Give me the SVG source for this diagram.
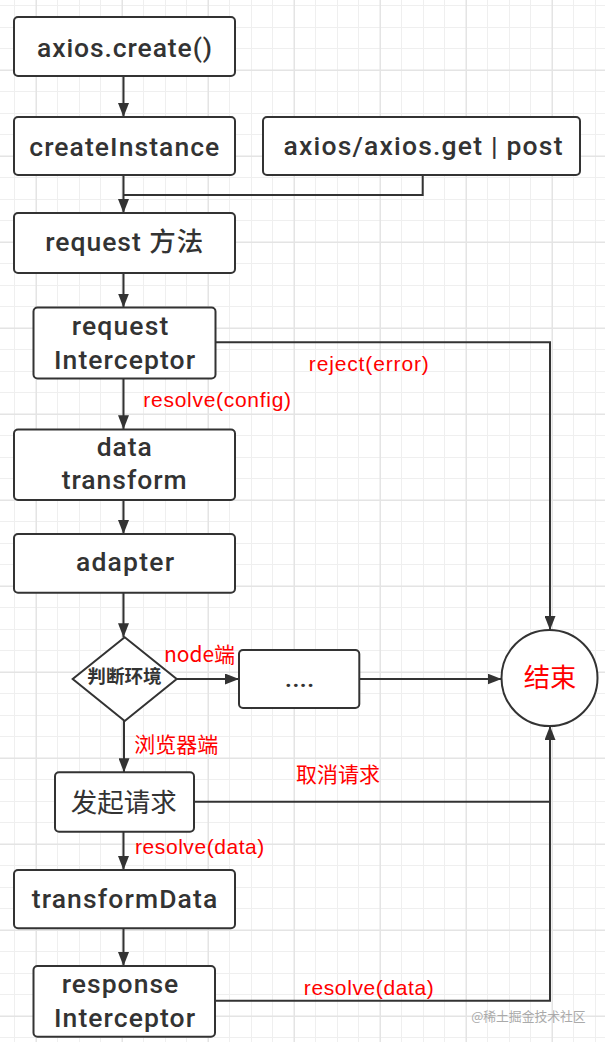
<svg xmlns="http://www.w3.org/2000/svg" width="605" height="1042" viewBox="0 0 605 1042">
<defs>
<pattern id="grid" x="-7" y="27" width="86" height="86" patternUnits="userSpaceOnUse">
<rect x="0" y="0" width="86" height="86" fill="#ffffff"/>
<g fill="#efefef">
<rect x="0" y="0" width="1" height="86"/>
<rect x="21" y="0" width="1" height="86"/>
<rect x="64" y="0" width="1" height="86"/>
<rect x="0" y="0" width="86" height="1"/>
<rect x="0" y="21" width="86" height="1"/>
<rect x="0" y="64" width="86" height="1"/>
</g>
<g fill="#e4e4e4">
<rect x="42.5" y="0" width="1.5" height="86"/>
<rect x="0" y="42.5" width="86" height="1.5"/>
</g>
</pattern>
<marker id="arrow" markerUnits="userSpaceOnUse" markerWidth="14" markerHeight="11" refX="14" refY="5.5" orient="auto">
<path d="M0,0 L14,5.5 L0,11 Z" fill="#333333"/>
</marker>
</defs>
<style>
.box{fill:#ffffff;stroke:#333333;stroke-width:2}
.t{font-family:Roboto,"Noto Sans CJK SC",sans-serif;font-weight:500;font-size:26.5px;fill:#333333;text-anchor:middle}
.cj{font-family:"Noto Sans CJK SC",sans-serif;fill:#333333;text-anchor:middle}
.lbl{font-family:"Liberation Sans","Noto Sans CJK SC",sans-serif;font-size:21px;fill:#ff0000;text-anchor:middle}
.lblc{font-family:"Noto Sans CJK SC",sans-serif;font-size:21px;fill:#ff0000;text-anchor:middle}
.edge{fill:none;stroke:#333333;stroke-width:2}
.arr{marker-end:url(#arrow)}
</style>
<rect x="0" y="0" width="605" height="1042" fill="url(#grid)"/>

<g id="connectors">
<path class="edge arr" d="M123.5,76 V117"/>
<path class="edge arr" d="M123.5,175 V213"/>
<path class="edge" d="M422.7,175 V195 H123.5"/>
<path class="edge arr" d="M123.5,273 V307.5"/>
<path class="edge arr" d="M215.3,342.3 H550 V630"/>
<path class="edge arr" d="M123.5,378.7 V429.3"/>
<path class="edge arr" d="M123.5,500 V534"/>
<path class="edge arr" d="M123.5,592.7 V637.3"/>
<path class="edge arr" d="M176.7,679 H239"/>
<path class="edge arr" d="M359.3,679 H501.5"/>
<path class="edge arr" d="M124,721 V772.3"/>
<path class="edge" d="M194,801.7 H550"/>
<path class="edge arr" d="M123.5,831.7 V870"/>
<path class="edge arr" d="M123.5,928.3 V966"/>
<path class="edge arr" d="M215,1000.7 H550 V726"/>
</g>

<g id="n-create">
<rect class="box" x="14" y="17" width="221" height="59" rx="4"/>
<text class="t" x="124.5" y="56.5" textLength="175" lengthAdjust="spacing">axios.create()</text>
</g>
<g id="n-createInstance">
<rect class="box" x="14" y="117" width="221" height="58" rx="4"/>
<text class="t" x="124.3" y="156" textLength="190" lengthAdjust="spacing">createInstance</text>
</g>
<g id="n-axios">
<rect class="box" x="263" y="117" width="317" height="58" rx="4"/>
<text class="t" x="423" y="155" textLength="279" lengthAdjust="spacing">axios/axios.get | post</text>
</g>
<g id="n-request">
<rect class="box" x="14" y="213" width="221" height="60" rx="4"/>
<text class="t" x="124.2" y="251" textLength="158" lengthAdjust="spacing">request 方法</text>
</g>
<g id="n-reqInterceptor">
<rect class="box" x="33.5" y="307.5" width="182" height="71" rx="4"/>
<text class="t" x="120" y="335" textLength="96.7" lengthAdjust="spacing">request</text>
<text class="t" x="124.5" y="369" textLength="141" lengthAdjust="spacing">Interceptor</text>
</g>
<g id="n-dataTransform">
<rect class="box" x="14" y="429.5" width="221" height="70.5" rx="4"/>
<text class="t" x="124.2" y="455.7" textLength="55" lengthAdjust="spacing">data</text>
<text class="t" x="124.2" y="489.3" textLength="125" lengthAdjust="spacing">transform</text>
</g>
<g id="n-adapter">
<rect class="box" x="14" y="534" width="221" height="58.7" rx="4"/>
<text class="t" x="125" y="570.7" textLength="98" lengthAdjust="spacing">adapter</text>
</g>
<g id="n-env">
<polygon class="box" points="124.7,637.3 176.7,679 124.7,721 72.7,679"/>
<text class="cj" x="124.5" y="683.2" font-size="18.6" font-weight="bold">判断环境</text>
</g>
<g id="n-node">
<rect class="box" x="239" y="650" width="120.3" height="58" rx="4"/>
<text class="t" x="299.6" y="687" font-size="20">....</text>
</g>
<g id="n-end">
<circle class="box" cx="549.5" cy="678" r="48"/>
<text class="cj" x="550" y="686.5" font-size="26.3" style="fill:#ff0000">结束</text>
</g>
<g id="n-send">
<rect class="box" x="55" y="772.3" width="139" height="59.4" rx="4"/>
<text class="cj" x="123.8" y="812" font-size="26.5">发起请求</text>
</g>
<g id="n-transformData">
<rect class="box" x="14" y="870" width="221" height="58.3" rx="4"/>
<text class="t" x="124.5" y="908.3" textLength="185.6" lengthAdjust="spacing">transformData</text>
</g>
<g id="n-respInterceptor">
<rect class="box" x="33.5" y="966" width="181.5" height="70.7" rx="4"/>
<text class="t" x="120" y="993.3" textLength="116.6" lengthAdjust="spacing">response</text>
<text class="t" x="124.5" y="1026.7" textLength="141" lengthAdjust="spacing">Interceptor</text>
</g>

<g id="labels">
<text class="lbl" x="368.8" y="370.5" textLength="120" lengthAdjust="spacing">reject(error)</text>
<text class="lbl" x="217.2" y="406.5" textLength="147.7" lengthAdjust="spacing">resolve(config)</text>
<text class="lblc" x="199.5" y="662">node端</text>
<text class="lblc" x="176.3" y="752" font-size="21.5">浏览器端</text>
<text class="lblc" x="338" y="781.5" font-size="21.5">取消请求</text>
<text class="lbl" x="199.7" y="854" textLength="129.3" lengthAdjust="spacing">resolve(data)</text>
<text class="lbl" x="368.8" y="995" textLength="130" lengthAdjust="spacing">resolve(data)</text>
<text x="528.4" y="1020.5" font-family="'Noto Sans CJK SC',sans-serif" font-size="12.8" fill="#aaaaaa" text-anchor="middle">@稀土掘金技术社区</text>
</g>
</svg>
